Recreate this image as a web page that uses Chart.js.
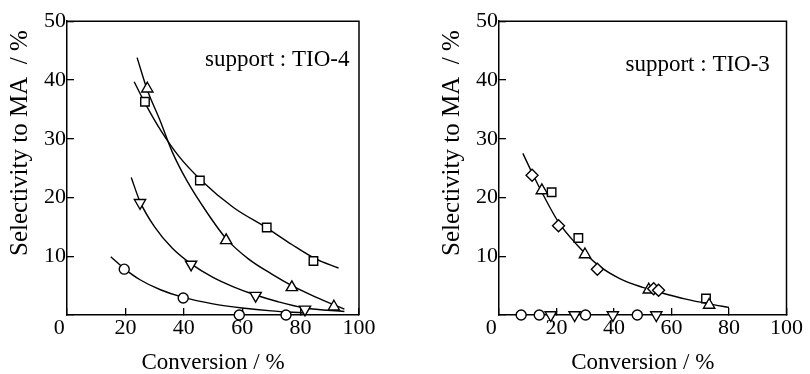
<!DOCTYPE html>
<html>
<head>
<meta charset="utf-8">
<title>Selectivity to MA vs conversion</title>
<script src="https://cdn.jsdelivr.net/npm/chart.js@4.4.0/dist/chart.umd.min.js"></script>
<style>
    html, body { margin: 0; padding: 0; background: #fff; }
    #wrap { position: relative; width: 810px; height: 374px; }
    .panel { position: absolute; top: 0; width: 405px; height: 374px; }
</style>
</head>
<body>
<div id="wrap">
    <div class="panel" style="left:0"><canvas id="chart-tio4" width="405" height="374"></canvas></div>
    <div class="panel" style="left:405px"><canvas id="chart-tio3" width="405" height="374"></canvas></div>
</div>
<script>
// Axis ticks
const xTicks = [0, 20, 40, 60, 80, 100];
const yTicks = [0, 10, 20, 30, 40, 50];

// ---- support : TIO-4 (left panel) ----
// measured points
const tio4SquareX = [26.7, 45.5, 68.4, 84.4];
const tio4SquareY = [36.3, 22.9, 14.9, 9.2];
const tio4TriUpX = [27.5, 54.5, 77.0, 91.4];
const tio4TriUpY = [38.5, 12.7, 4.7, 1.4];
const tio4TriDownX = [25.0, 42.5, 64.6, 81.5];
const tio4TriDownY = [19.1, 8.6, 3.3, 0.95];
const tio4CircleX = [19.6, 39.8, 59.0, 75.0];
const tio4CircleY = [7.8, 2.9, 0, 0];

// fitted curves
const tio4SquareCurveX = [23, 27, 32, 38, 46, 57, 68.5, 77, 85, 93];
const tio4SquareCurveY = [39.7, 35.8, 31.5, 27.2, 22.9, 18.3, 14.8, 12.0, 9.6, 8.0];
const tio4TriUpCurveX = [24, 27.5, 31.8, 36, 41, 48, 54.5, 62, 70, 77, 85, 95];
const tio4TriUpCurveY = [43.8, 38.3, 33.2, 27.8, 22.9, 17.4, 13.0, 9.6, 7.0, 5.0, 3.1, 1.0];
const tio4TriDownCurveX = [22, 25, 30, 36, 42.5, 50, 57, 64.6, 72, 81.5, 95];
const tio4TriDownCurveY = [23.4, 19.3, 15.0, 11.4, 8.7, 6.4, 4.8, 3.4, 2.3, 1.2, 0.6];
const tio4CircleCurveX = [15, 19.6, 25, 32, 39.8, 50, 60, 70, 81];
const tio4CircleCurveY = [9.9, 7.9, 6.0, 4.3, 3.0, 1.9, 1.2, 0.7, 0.35];

// ---- support : TIO-3 (right panel) ----
const tio3DiamondX = [11.5, 20.7, 34.2, 53.8, 55.5];
const tio3DiamondY = [23.8, 15.2, 7.8, 4.45, 4.2];
const tio3TriUpX = [14.9, 29.9, 52.1, 73.1];
const tio3TriUpY = [21.2, 10.3, 4.3, 1.7];
const tio3SquareX = [18.3, 27.6, 72.0];
const tio3SquareY = [20.9, 13.1, 2.8];
const tio3CircleX = [7.7, 14.0, 30.1, 48.1];
const tio3CircleY = [0, 0, 0, 0];
const tio3TriDownX = [18.0, 26.3, 39.6, 54.7];
const tio3TriDownY = [0, 0, 0, 0];

const tio3CurveX = [8.3, 11.5, 15, 20.7, 27, 34.7, 42, 50, 57, 65, 73, 80];
const tio3CurveY = [27.5, 24.2, 20.8, 15.8, 12.0, 8.4, 6.2, 4.7, 3.7, 2.7, 1.9, 1.3];

// Annotation labels (text start x / baseline y, in data units)
const tio4Label = { text: "support : TIO-4", x: 47.3, y: 42.3 };
const tio3Label = { text: "support : TIO-3", x: 44.0, y: 41.6 };

const FONT = "'Liberation Serif', 'Times New Roman', serif";

function toPoints(xs, ys) {
    return xs.map((x, i) => ({ x: x, y: ys[i] }));
}

// hollow marker series
function markerSet(xs, ys, style, rotation, radius) {
    return {
        data: toPoints(xs, ys),
        showLine: false,
        pointStyle: style,
        pointRotation: rotation,
        pointRadius: radius,
        pointHoverRadius: radius,
        pointBackgroundColor: "#fff",
        pointBorderColor: "#000",
        pointBorderWidth: 1.4,
        clip: false,
        order: 1
    };
}

// smooth fit line
function curveSet(xs, ys) {
    return {
        data: toPoints(xs, ys),
        showLine: true,
        borderColor: "#000",
        borderWidth: 1.4,
        pointRadius: 0,
        cubicInterpolationMode: "monotone",
        fill: false,
        clip: false,
        order: 2
    };
}

// top and right edges of the plot box + the support label
const framePlugin = {
    id: "frame",
    afterDraw(chart, args, opts) {
        const { ctx, chartArea } = chart;
        ctx.save();
        ctx.strokeStyle = "#000";
        ctx.lineWidth = 1.5;
        ctx.beginPath();
        ctx.moveTo(chartArea.left, chartArea.top);
        ctx.lineTo(chartArea.right, chartArea.top);
        ctx.lineTo(chartArea.right, chartArea.bottom);
        ctx.stroke();

        const label = opts.label;
        if (label) {
            ctx.fillStyle = "#000";
            ctx.font = "23px " + FONT;
            ctx.textAlign = "left";
            ctx.textBaseline = "alphabetic";
            ctx.fillText(label.text,
                chart.scales.x.getPixelForValue(label.x),
                chart.scales.y.getPixelForValue(label.y));
        }
        ctx.restore();
    }
};

function drawPanel(canvasId, datasets, label, padLeft, padRight) {
    new Chart(document.getElementById(canvasId), {
        type: "scatter",
        data: { datasets: datasets },
        options: {
            responsive: false,
            maintainAspectRatio: false,
            animation: false,
            events: [],
            layout: { padding: { left: padLeft, right: padRight, top: 16, bottom: 0 } },
            plugins: {
                legend: { display: false },
                tooltip: { enabled: false },
                frame: { label: label }
            },
            scales: {
                x: {
                    type: "linear",
                    min: xTicks[0],
                    max: xTicks[xTicks.length - 1],
                    afterBuildTicks: (scale) => { scale.ticks = xTicks.map(v => ({ value: v })); },
                    afterFit: (scale) => { scale.height = 59; },
                    grid: {
                        drawOnChartArea: false,
                        drawTicks: true,
                        tickLength: -7,
                        color: "#000",
                        lineWidth: 1.3
                    },
                    border: { display: true, color: "#000", width: 1.5 },
                    ticks: {
                        color: "#000",
                        padding: 7,
                        font: { family: FONT, size: 22 },
                        callback: (v) => (v === 0 ? "0\u2002\u2009" : String(v))
                    },
                    title: {
                        display: true,
                        text: "Conversion / %",
                        color: "#000",
                        font: { family: FONT, size: 23 },
                        padding: { top: 0, bottom: -3 }
                    }
                },
                y: {
                    type: "linear",
                    min: yTicks[0],
                    max: yTicks[yTicks.length - 1],
                    afterBuildTicks: (scale) => { scale.ticks = yTicks.map(v => ({ value: v })); },
                    afterFit: (scale) => { scale.width = 67; },
                    grid: {
                        drawOnChartArea: false,
                        drawTicks: true,
                        tickLength: -7,
                        color: "#000",
                        lineWidth: 1.3
                    },
                    border: { display: true, color: "#000", width: 1.5 },
                    ticks: {
                        color: "#000",
                        padding: 8,
                        font: { family: FONT, size: 22 },
                        callback: (v) => (v === 0 ? "" : String(v))
                    },
                    title: {
                        display: true,
                        text: "\u2003\u2003Selectivity to MA  / %",
                        color: "#000",
                        font: { family: FONT, size: 25 },
                        padding: { top: 5, bottom: 0 }
                    }
                }
            }
        },
        plugins: [framePlugin]
    });
}

// Left panel
drawPanel("chart-tio4", [
    markerSet(tio4SquareX, tio4SquareY, "rect", 0, 6),
    markerSet(tio4TriUpX, tio4TriUpY, "triangle", 0, 6.5),
    markerSet(tio4TriDownX, tio4TriDownY, "triangle", 180, 6.5),
    markerSet(tio4CircleX, tio4CircleY, "circle", 0, 5),
    curveSet(tio4SquareCurveX, tio4SquareCurveY),
    curveSet(tio4TriUpCurveX, tio4TriUpCurveY),
    curveSet(tio4TriDownCurveX, tio4TriDownCurveY),
    curveSet(tio4CircleCurveX, tio4CircleCurveY)
], tio4Label, 0, 46);

// Right panel
drawPanel("chart-tio3", [
    markerSet(tio3DiamondX, tio3DiamondY, "rectRot", 0, 6),
    markerSet(tio3TriUpX, tio3TriUpY, "triangle", 0, 6.5),
    markerSet(tio3SquareX, tio3SquareY, "rect", 0, 6),
    markerSet(tio3CircleX, tio3CircleY, "circle", 0, 5),
    markerSet(tio3TriDownX, tio3TriDownY, "triangle", 180, 6.5),
    curveSet(tio3CurveX, tio3CurveY)
], tio3Label, 27, 18);
</script>
</body>
</html>
